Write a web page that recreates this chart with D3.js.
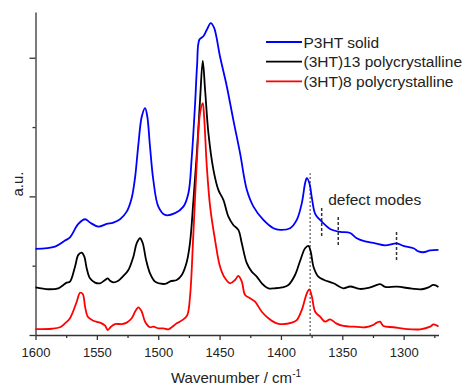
<!DOCTYPE html>
<html>
<head>
<meta charset="utf-8">
<script src="https://cdn.jsdelivr.net/npm/d3@7"></script>
<style>
  body { margin: 0; background: #fff; }
  svg { font-family: "Liberation Sans", Arial, sans-serif; }
  .axis path, .axis line { stroke: #333; stroke-width: 1.3; }
  .axis text { font-size: 13px; fill: #222; }
</style>
</head>
<body>
<div id="chart"></div>
<script>
// wavenumber (cm-1) / intensity (a.u., stacked as in the figure)
const p3htWn = [1600, 1584.1, 1576, 1571.9, 1565.1, 1559.6, 1555.6, 1548.8, 1542, 1536.6, 1531.1, 1525.7, 1521.6, 1518.9, 1516.2, 1513.4, 1510.7, 1508.9, 1506.7, 1504, 1499.9, 1494.4, 1486.3, 1479.5, 1475.4, 1472.7, 1470, 1468.3, 1466.5, 1463.2, 1460.4, 1457.2, 1454.5, 1449.6, 1444.1, 1438.8, 1433.3, 1427.8, 1422.4, 1414.3, 1406.1, 1400.7, 1392.5, 1387.1, 1383, 1380.3, 1378.9, 1376.8, 1374.8, 1372.1, 1368.1, 1364, 1359.9, 1351.8, 1343.6, 1338.2, 1331.4, 1323.2, 1315.1, 1305.5, 1300.2, 1292, 1287.9, 1283.9, 1278.4, 1271.6];
const p3htVal = [0.621, 0.638, 0.681, 0.705, 0.801, 0.835, 0.811, 0.782, 0.801, 0.811, 0.835, 0.890, 0.989, 1.134, 1.372, 1.576, 1.637, 1.576, 1.360, 1.119, 0.926, 0.866, 0.879, 0.926, 1.023, 1.278, 1.661, 1.949, 2.130, 2.155, 2.202, 2.250, 2.217, 2.007, 1.793, 1.552, 1.312, 1.047, 0.926, 0.830, 0.770, 0.758, 0.770, 0.830, 0.951, 1.095, 1.131, 1.095, 0.989, 0.874, 0.830, 0.794, 0.765, 0.744, 0.736, 0.698, 0.675, 0.661, 0.646, 0.661, 0.643, 0.626, 0.603, 0.597, 0.610, 0.614];

const ht13Wn = [1600, 1589.6, 1581.4, 1577.3, 1574.6, 1571.9, 1567.8, 1565.1, 1562.3, 1560.2, 1558.3, 1555.6, 1551.5, 1547.4, 1543.3, 1541.1, 1539.3, 1536.6, 1532.5, 1528.4, 1524.3, 1520.3, 1517.5, 1514.8, 1512.6, 1509.9, 1506.7, 1502.6, 1495.8, 1493, 1489.8, 1484.9, 1480.8, 1476.7, 1474.1, 1471.4, 1468.6, 1465.9, 1463.7, 1461.8, 1459.1, 1455, 1451, 1446.9, 1442.8, 1438.8, 1434.7, 1431.9, 1427.8, 1423.8, 1419.7, 1415.6, 1410.2, 1404.8, 1399.1, 1393.9, 1388.5, 1384.4, 1380.3, 1377.6, 1375.7, 1373.5, 1369.5, 1364.8, 1357.2, 1349.1, 1343.6, 1335.5, 1327.3, 1319.2, 1315.1, 1305.5, 1293.3, 1285.2, 1279.8, 1275.7, 1271.6];
const ht13Val = [0.343, 0.330, 0.337, 0.361, 0.378, 0.385, 0.493, 0.578, 0.594, 0.565, 0.482, 0.409, 0.378, 0.373, 0.397, 0.409, 0.392, 0.380, 0.392, 0.426, 0.469, 0.563, 0.662, 0.698, 0.662, 0.542, 0.445, 0.385, 0.368, 0.373, 0.388, 0.397, 0.433, 0.529, 0.664, 0.960, 1.300, 1.697, 1.978, 1.769, 1.456, 1.191, 1.047, 0.975, 0.854, 0.794, 0.758, 0.662, 0.518, 0.457, 0.421, 0.373, 0.337, 0.337, 0.343, 0.361, 0.433, 0.534, 0.626, 0.643, 0.601, 0.493, 0.421, 0.397, 0.373, 0.337, 0.350, 0.332, 0.343, 0.367, 0.347, 0.349, 0.334, 0.330, 0.344, 0.361, 0.347];

const ht8Wn = [1600, 1586.8, 1580, 1576, 1571.9, 1566.4, 1563.7, 1561.5, 1559.6, 1557.4, 1552.9, 1547.4, 1543.3, 1541.1, 1538.5, 1535.2, 1529.7, 1525.7, 1521.6, 1518.9, 1516.2, 1513.4, 1510.7, 1506.7, 1504, 1499.9, 1495.8, 1491.7, 1489, 1484.9, 1479.5, 1476.3, 1474.1, 1471.4, 1468.6, 1465.9, 1463.7, 1462.6, 1460.4, 1457.7, 1453.7, 1449.6, 1445.5, 1441.4, 1437.4, 1434.7, 1431.9, 1429.2, 1425.1, 1421.1, 1415.6, 1410.2, 1404.8, 1400.7, 1391.1, 1387.1, 1383, 1378.9, 1376.8, 1374.8, 1372.1, 1368.1, 1364, 1359.9, 1355, 1349.1, 1340.9, 1331.4, 1325.7, 1321.9, 1319.2, 1316.5, 1308.3, 1297.4, 1286.5, 1278.4, 1275.7, 1271.6];
const ht8Val = [0.043, 0.045, 0.056, 0.084, 0.121, 0.240, 0.305, 0.296, 0.204, 0.132, 0.103, 0.089, 0.067, 0.036, 0.060, 0.079, 0.079, 0.089, 0.121, 0.168, 0.200, 0.168, 0.096, 0.056, 0.060, 0.048, 0.048, 0.041, 0.056, 0.084, 0.113, 0.144, 0.274, 0.722, 1.240, 1.601, 1.673, 1.576, 1.215, 0.926, 0.686, 0.493, 0.409, 0.373, 0.397, 0.426, 0.385, 0.289, 0.265, 0.240, 0.168, 0.121, 0.089, 0.079, 0.089, 0.108, 0.181, 0.301, 0.329, 0.277, 0.168, 0.132, 0.096, 0.113, 0.084, 0.065, 0.060, 0.056, 0.069, 0.089, 0.096, 0.065, 0.056, 0.043, 0.041, 0.060, 0.076, 0.061];

const seriesNames = ['P3HT solid', '(3HT)13 polycrystalline', '(3HT)8 polycrystalline'];
const seriesColors = ['#0000ff', '#000000', '#ff0000'];

const xMajorTicks = [1600, 1550, 1500, 1450, 1400, 1350, 1300];
const xMinorTicks = [1575, 1525, 1475, 1425, 1375, 1325, 1275];
const yMajorTicks = [0, 1, 2];
const yMinorTicks = [0.5, 1.5];

// dotted reference line and defect mode markers: [wavenumber, from, to]
const refLine = [1376.2, 0, 1.167];
const defectModes = [[1366.8, 0.715, 0.926], [1353.3, 0.650, 0.866], [1305.8, 0.541, 0.751]];

const width = 466;
const height = 386;
const x = d3.scaleLinear().domain([1600, 1271.6]).range([35.5, 438.5]);
const y = d3.scaleLinear().domain([0, 2.33]).range([335, 12]);

const svg = d3.select('#chart')
  .append('svg')
    .attr('width', width)
    .attr('height', height);

// axes
svg.append('g')
    .attr('class', 'axis')
    .attr('transform', `translate(0,${y(0)})`)
    .call(d3.axisBottom(x).tickValues(xMajorTicks).tickSize(5).tickSizeOuter(0).tickFormat(d3.format('d')))
    .call(g => g.selectAll('text').attr('dy', '1.05em'));
svg.append('g')
    .attr('class', 'axis')
    .attr('transform', `translate(0,${y(0)})`)
    .call(d3.axisBottom(x).tickValues(xMinorTicks).tickSize(3).tickSizeOuter(0).tickFormat(''))
    .call(g => g.select('.domain').remove());

svg.append('g')
    .attr('class', 'axis')
    .attr('transform', `translate(${x(1600)},0)`)
    .call(d3.axisLeft(y).tickValues(yMajorTicks).tickSize(6).tickSizeOuter(0).tickFormat(''));
svg.append('g')
    .attr('class', 'axis')
    .attr('transform', `translate(${x(1600)},0)`)
    .call(d3.axisLeft(y).tickValues(yMinorTicks).tickSize(3).tickSizeOuter(0).tickFormat(''))
    .call(g => g.select('.domain').remove());

// annotations
svg.append('line')
    .attr('x1', x(refLine[0]))
    .attr('x2', x(refLine[0]))
    .attr('y1', y(refLine[1]))
    .attr('y2', y(refLine[2]))
    .attr('stroke', '#555')
    .attr('stroke-width', 1.2)
    .attr('stroke-dasharray', '2,2');

svg.selectAll('.defect')
  .data(defectModes)
  .join('line')
    .attr('class', 'defect')
    .attr('x1', d => x(d[0]))
    .attr('x2', d => x(d[0]))
    .attr('y1', d => y(d[1]))
    .attr('y2', d => y(d[2]))
    .attr('stroke', '#333')
    .attr('stroke-width', 1.5)
    .attr('stroke-dasharray', '3,2');

svg.append('text')
    .attr('x', x(1361.5))
    .attr('y', y(0.938))
    .attr('font-size', 15.5)
    .attr('fill', '#222')
    .text('defect modes');

// spectra
const spectra = [
  d3.zip(p3htWn, p3htVal),
  d3.zip(ht13Wn, ht13Val),
  d3.zip(ht8Wn, ht8Val)
];
const line = d3.line()
  .x(d => x(d[0]))
  .y(d => y(d[1]))
  .curve(d3.curveCatmullRom.alpha(0.5));

svg.selectAll('.spectrum')
  .data(spectra)
  .join('path')
    .attr('class', 'spectrum')
    .attr('fill', 'none')
    .attr('stroke', (d, i) => seriesColors[i])
    .attr('stroke-width', 1.8)
    .attr('d', line);

// legend
const legend = svg.append('g').attr('transform', 'translate(266,42)');
legend.selectAll('line')
  .data(seriesNames)
  .join('line')
    .attr('x1', 0)
    .attr('x2', 36)
    .attr('y1', (d, i) => i * 19.7)
    .attr('y2', (d, i) => i * 19.7)
    .attr('stroke', (d, i) => seriesColors[i])
    .attr('stroke-width', 1.8);
legend.selectAll('text')
  .data(seriesNames)
  .join('text')
    .attr('x', 37.5)
    .attr('y', (d, i) => i * 19.7 + 5.5)
    .attr('font-size', 15.5)
    .attr('fill', '#222')
    .text(d => d);

// axis titles
const xTitle = svg.append('text')
    .attr('x', 236)
    .attr('y', 383)
    .attr('text-anchor', 'middle')
    .attr('font-size', 15)
    .attr('fill', '#222');
xTitle.append('tspan').text('Wavenumber / cm');
xTitle.append('tspan').attr('dy', -6).attr('font-size', 10).text('-1');

svg.append('text')
    .attr('transform', 'translate(23,184) rotate(-90)')
    .attr('text-anchor', 'middle')
    .attr('font-size', 15)
    .attr('fill', '#222')
    .text('a.u.');
</script>
</body>
</html>
